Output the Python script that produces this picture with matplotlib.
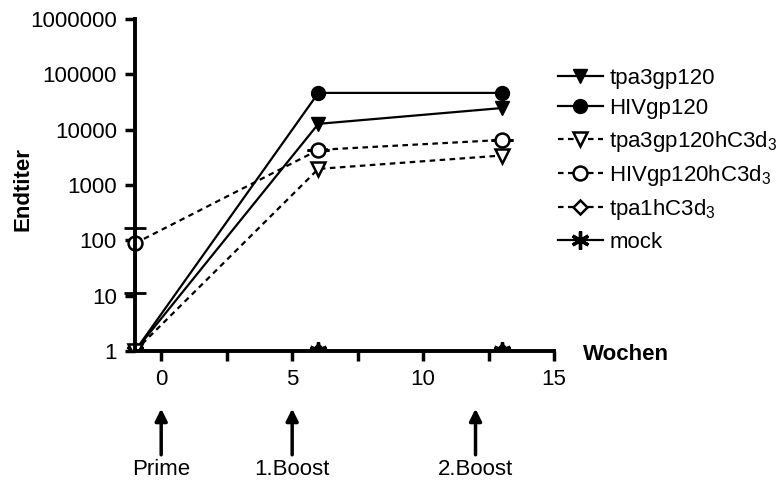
import matplotlib
matplotlib.use('Agg')
import matplotlib.pyplot as plt
from matplotlib.patches import Rectangle
import numpy as np

plt.rcParams['font.family'] = ['Liberation Sans', 'DejaVu Sans']
plt.rcParams['mathtext.fontset'] = 'custom'
plt.rcParams['mathtext.rm'] = 'Liberation Sans'
plt.rcParams['mathtext.default'] = 'regular'

# data (weeks, endpoint titers)
weeks = [-1, 6, 13]
tpa3gp120 = [1, 12700, 24500]
hivgp120 = [1, 46000, 46000]
tpa3gp120hc3d3 = [1, 1950, 3400]
hivgp120hc3d3 = [88, 4300, 6500]
hivgp120hc3d3_err_low = [77, 0, 0]
hivgp120hc3d3_err_high = [79, 0, 0]
tpa1hc3d3 = [1, 1, 1]
mock = [1, 1, 1]

arrow_weeks = [0, 5, 12]
arrow_labels = ['Prime', '1.Boost', '2.Boost']

fig = plt.figure(figsize=(7.79, 4.92), dpi=100)
ax = fig.add_axes([0.1733, 0.2866, 0.538, 0.675])

fs = 16
ms = 10
dash = (2.5, 2)

# clip only at the bottom of the axes (markers at y=1 are cut in half)
clip = Rectangle((-0.2, 0), 1.4, 1.2, transform=ax.transAxes, fill=False, visible=False)
ax.add_patch(clip)

lines = []
lines += ax.plot(weeks, tpa1hc3d3, color='black', lw=1.6, dashes=dash, marker='D', ms=7, mfc='white', mew=1.8, zorder=4, label='tpa1hC3d$_3$')
lines += ax.plot(weeks, mock, '-', color='black', lw=1.6, marker=(6, 2, 0), ms=13, mew=2.4, zorder=5, label='mock')
lines += ax.plot(weeks, tpa3gp120, '-', color='black', lw=1.6, marker='v', ms=ms, mfc='black', zorder=5, label='tpa3gp120')
lines += ax.plot(weeks, hivgp120, '-', color='black', lw=1.6, marker='o', ms=ms, mfc='black', zorder=5, label='HIVgp120')
lines += ax.plot(weeks, tpa3gp120hc3d3, color='black', lw=1.6, dashes=dash, marker='v', ms=ms, mfc='white', mew=1.8, zorder=6, label='tpa3gp120hC3d$_3$')
eb = ax.errorbar(weeks, hivgp120hc3d3, yerr=[hivgp120hc3d3_err_low, hivgp120hc3d3_err_high], fmt='none', ecolor='black',
                 capsize=8, capthick=2, elinewidth=2, zorder=6)
lines += ax.plot(weeks, hivgp120hc3d3, color='black', lw=1.6, dashes=dash, marker='o', ms=ms, mfc='white', mew=1.8, zorder=7, label='HIVgp120hC3d$_3$')
for ln in lines:
    ln.set_clip_path(clip)
for art in eb.lines[1] + eb.lines[2]:
    art.set_clip_on(False)

ax.set_yscale('log')
ax.set_ylim(1, 1e6)
ax.set_xlim(-1, 15)
ax.set_yticks([1, 10, 100, 1000, 10000, 100000, 1000000])
ax.set_yticklabels(['1', '10', '100', '1000', '10000', '100000', '1000000'])
ax.minorticks_off()
ax.set_xticks(np.arange(0, 15.1, 2.5))
ax.set_xticklabels(['0', '', '5', '', '10', '', '15'])
ax.tick_params(axis='both', labelsize=fs, width=2.5, length=7, direction='out', pad=6)

for s in ['top', 'right']:
    ax.spines[s].set_visible(False)
for s in ['left', 'bottom']:
    ax.spines[s].set_linewidth(2.8)
    ax.spines[s].set_zorder(8)

fig.text(0.03, 0.615, 'Endtiter', rotation=90, fontsize=fs, fontweight='bold', ha='center', va='center')
fig.text(0.803, 0.28, 'Wochen', fontsize=fs, fontweight='bold', ha='center', va='center')

for w, lab in zip(arrow_weeks, arrow_labels):
    ax.annotate('', xy=(w, 0.175), xycoords=('data', 'figure fraction'),
                xytext=(w, 0.07), textcoords=('data', 'figure fraction'),
                arrowprops=dict(arrowstyle='-|>', color='black', lw=2.5, mutation_scale=18), annotation_clip=False)
    ax.annotate(lab, xy=(w, 0.045), xycoords=('data', 'figure fraction'), ha='center', va='center', fontsize=fs, annotation_clip=False)

h, l = ax.get_legend_handles_labels()
order = ['tpa3gp120', 'HIVgp120', 'tpa3gp120hC3d$_3$', 'HIVgp120hC3d$_3$', 'tpa1hC3d$_3$', 'mock']
hd = dict(zip(l, h))
leg = fig.legend([hd[k] for k in order], order, loc='upper left', bbox_to_anchor=(0.705, 0.88), frameon=False, fontsize=fs,
                 handlelength=2.0, handletextpad=0.3, labelspacing=0.42, borderaxespad=0)

fig.savefig('out.png', dpi=100)
